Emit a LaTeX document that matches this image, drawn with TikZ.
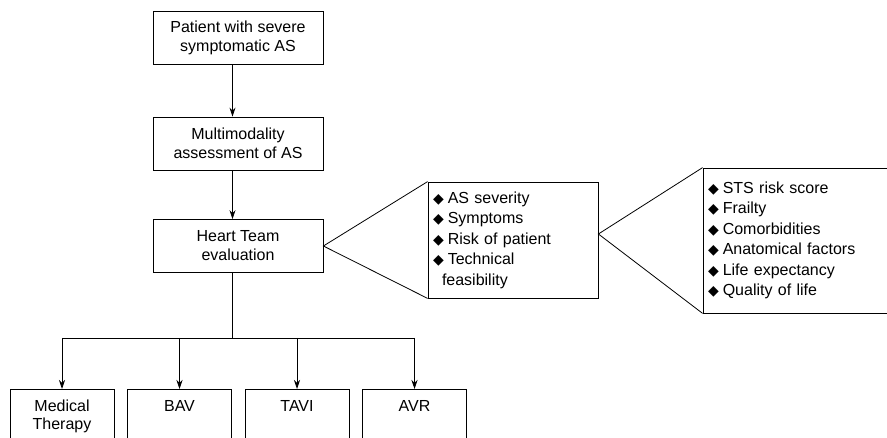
\documentclass[tikz,border=0pt]{standalone}
\usepackage{fontspec}
\setmainfont{Liberation Sans}
\newfontfamily\symfont{DejaVu Sans}
\usetikzlibrary{arrows.meta}

\newcommand\diam{{\symfont\fontsize{14}{14}\selectfont ◆}\hspace{4pt}}

\tikzset{
	flowbox/.style={draw,line width=0.8pt,align=center,minimum width=170pt,minimum height=53pt,font=\fontsize{16}{19}\selectfont},
	listbox/.style={draw,line width=0.8pt,align=left,inner xsep=5pt,font=\fontsize{16}{20.5}\selectfont},
	leafbox/.style={draw,line width=0.8pt,align=center,anchor=north,minimum width=104pt,inner ysep=11pt,text depth=60pt,font=\fontsize{16}{18}\selectfont},
	arr/.style={-{Stealth[length=9pt,width=6pt]},line width=0.8pt},
	link/.style={line width=0.8pt}
}

\begin{document}
\begin{tikzpicture}[x=1pt,y=-1pt]
	\useasboundingbox (0,0) rectangle (887,438);
	\clip (0,0) rectangle (887,438);
	\node [flowbox] (patient) at (238,37.5) {Patient with severe\\symptomatic AS};
	\node [flowbox] (assess) at ([yshift=-106pt]patient.center) {Multimodality\\assessment of AS};
	\node [flowbox] (heart) at ([yshift=-102.5pt]assess.center) {Heart Team\\evaluation};
	\node [listbox,text width=160pt,minimum height=116pt] (factors) at (513,240) {\diam AS severity\\\diam Symptoms\\\diam Risk of patient\\\diam Technical\\\hspace{9pt}feasibility};
	\node [listbox,text width=220pt,minimum height=145pt] (risk) at (818,240.5) {\diam STS risk score\\\diam Frailty\\\diam Comorbidities\\\diam Anatomical factors\\\diam Life expectancy\\\diam Quality of life};
	\node [leafbox] (med) at (62,389) {Medical\\Therapy};
	\node [leafbox] (bav) at ([xshift=117.5pt]med.north) {BAV};
	\node [leafbox] (tavi) at ([xshift=117.5pt]bav.north) {TAVI};
	\node [leafbox] (avr) at ([xshift=117.5pt]tavi.north) {AVR};
	\coordinate (trunk) at (232.5,338);
	\draw [arr] ([xshift=-5.5pt]patient.south) to ([xshift=-5.5pt]assess.north);
	\draw [arr] ([xshift=-5.5pt]assess.south) to ([xshift=-5.5pt]heart.north);
	\draw [link] (factors.north west) -- (heart.east) -- (factors.south west);
	\draw [link] (risk.north west) -- ([yshift=6pt]factors.east) -- (risk.south west);
	\draw [link] ([xshift=-5.5pt]heart.south) -- (trunk);
	\draw [link] (med.north |- trunk) -- (avr.north |- trunk);
	\foreach \leaf in {med,bav,tavi,avr}
		\draw [arr] (\leaf.north |- trunk) -- (\leaf.north);
\end{tikzpicture}
\end{document}
